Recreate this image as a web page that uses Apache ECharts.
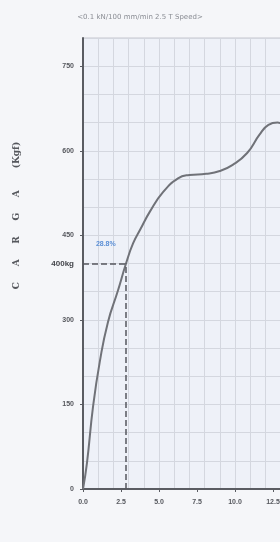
<!DOCTYPE html>
<html>
<head>
<meta charset="utf-8">
<script src="https://cdn.jsdelivr.net/npm/echarts@6/dist/echarts.min.js"></script>
<style>
  html, body { margin: 0; padding: 0; background: #f5f6f9; }
  #chart { width: 280px; height: 542px; }
</style>
</head>
<body>
<div id="chart"></div>
<script>
// deformation (%) and load (kgf)
const strain = [0, 0.26, 0.66, 1.1, 1.64, 2.3, 2.83, 3.3, 3.8, 4.4, 5.25, 6.25, 7.0, 8.1, 9.0, 9.85, 10.8, 11.6, 12.2, 12.8, 13.4]
const load = [0, 46, 146, 225, 296, 352, 400, 436, 462, 492, 526, 551, 557, 559, 564, 575, 596, 628, 646, 650, 640]

const yTicks = [0, 150, 300, 450, 600, 750]
const refLoad = 400
const refStrain = 2.83
const refLabel = '400kg'
const refPct = '28.8%'
const chartTitle = '<0.1 kN/100 mm/min 2.5 T Speed>'

const chart = echarts.init(document.getElementById('chart'))

chart.setOption({
  animation: false,
  backgroundColor: '#f5f6f9',
  title: {
    text: chartTitle,
    left: 'center',
    top: 9,
    textStyle: { fontSize: 7, color: '#8a8d94', fontWeight: 'normal', fontFamily: 'DejaVu Sans' }
  },
  grid: {
    left: 83, width: 228, top: 38, bottom: 53,
    outerBoundsMode: 'none',
    show: true, backgroundColor: '#eef1f8', borderColor: '#c4c7cf', borderWidth: 1
  },
  xAxis: [
    {
      type: 'value', min: 0, max: 15, interval: 2.5,
      axisLine: { lineStyle: { color: '#5a5c62', width: 2 } },
      axisTick: { show: true, length: 3, lineStyle: { color: '#5a5c62' } },
      axisLabel: {
        color: '#55575d', fontSize: 7, fontWeight: 'bold', margin: 10,
        formatter: v => v.toFixed(1)
      },
      splitLine: { show: false }
    },
    {
      type: 'value', min: 0, max: 15, interval: 1, position: 'bottom',
      axisLine: { show: false }, axisTick: { show: false }, axisLabel: { show: false },
      splitLine: { show: true, lineStyle: { color: '#d4d7df', width: 1 } }
    }
  ],
  yAxis: {
    type: 'value', min: 0, max: 800, interval: 150,
    name: 'C     A     R     G     A       (Kgf)',
    nameLocation: 'middle',
    nameGap: 62,
    nameTextStyle: {
      color: '#55575d', fontSize: 9, fontWeight: 'bold', fontFamily: 'DejaVu Serif',
      padding: [0, 0, 0, 96]
    },
    axisLine: { show: true, lineStyle: { color: '#5a5c62', width: 2 } },
    axisTick: { show: true, length: 3, lineStyle: { color: '#5a5c62' } },
    axisLabel: {
      color: '#55575d', fontSize: 7, fontWeight: 'bold', margin: 9,
      showMaxLabel: false,
      formatter: v => (yTicks.includes(v) ? String(v) : '')
    },
    splitLine: { show: true, lineStyle: { color: '#d4d7df', width: 1 } },
    minorTick: { show: false, splitNumber: 3 },
    minorSplitLine: { show: true, lineStyle: { color: '#d4d7df', width: 1 } }
  },
  series: [
    {
      type: 'line',
      xAxisIndex: 0,
      data: strain.map((s, i) => [s, load[i]]),
      smooth: 0.5,
      showSymbol: false,
      lineStyle: { color: '#707278', width: 2 },
      markLine: {
        silent: true,
        symbol: 'none',
        lineStyle: { color: '#55575d', type: 'dashed', width: 1.5 },
        data: [
          [
            { coord: [0, refLoad], label: { show: true, position: 'start', formatter: refLabel, color: '#44464c', fontSize: 8, fontWeight: 'bold', distance: 9 } },
            { coord: [refStrain, refLoad] }
          ],
          [
            { coord: [refStrain, 0], label: { show: false } },
            { coord: [refStrain, refLoad] }
          ]
        ]
      },
      markPoint: {
        silent: true,
        symbol: 'circle',
        symbolSize: 0,
        data: [
          {
            coord: [1.5, refLoad],
            label: { show: true, position: 'top', distance: 16, formatter: refPct, color: '#5b8fd6', fontSize: 7, fontWeight: 'bold' }
          }
        ]
      }
    }
  ]
})
</script>
</body>
</html>
